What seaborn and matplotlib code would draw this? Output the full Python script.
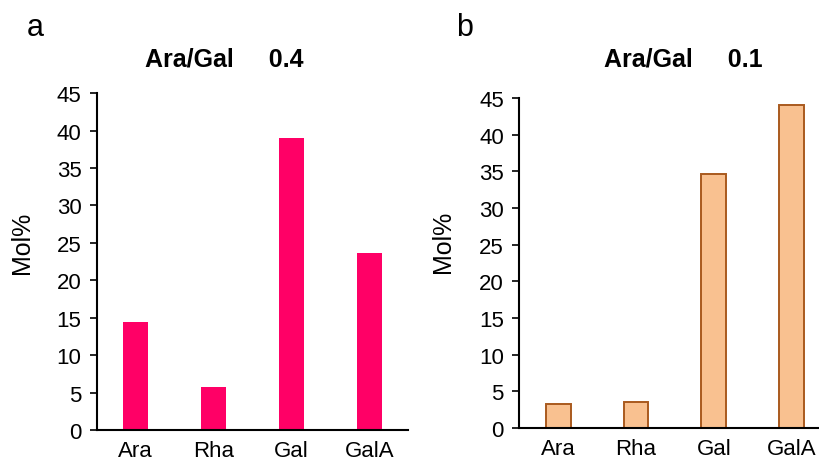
import matplotlib
matplotlib.use('Agg')

import pandas as pd
import matplotlib.pyplot as plt
import seaborn as sns

# data
sugars = ["Ara", "Rha", "Gal", "GalA"]
mol_a = [14.5, 5.7, 39.0, 23.6]
mol_b = [3.3, 3.6, 34.6, 44.0]
ratio_a = "0.4"
ratio_b = "0.1"
yticks = [0, 5, 10, 15, 20, 25, 30, 35, 40, 45]

sns.set_style("white")
plt.rcParams['font.family'] = ['Liberation Sans', 'DejaVu Sans']
plt.rcParams['text.color'] = 'black'
plt.rcParams['axes.labelcolor'] = 'black'

df_a = pd.DataFrame({"sugar": sugars, "mol": mol_a})
df_b = pd.DataFrame({"sugar": sugars, "mol": mol_b})

fig = plt.figure(figsize=(8.2, 4.64), dpi=100)
ax_a = fig.add_axes([0.118, 0.071, 0.380, 0.726])
ax_b = fig.add_axes([0.633, 0.0755, 0.367, 0.711])

sns.barplot(data=df_a, x="sugar", y="mol", order=sugars, color="#FF0066",
            width=0.32, saturation=1, linewidth=0, ax=ax_a)
sns.barplot(data=df_b, x="sugar", y="mol", order=sugars, color="#F9C190",
            width=0.32, saturation=1, edgecolor="#A95A1E", linewidth=1.4, ax=ax_b)

for ax in (ax_a, ax_b):
    ax.set_ylim(0, 45)
    ax.set_yticks(yticks)
    ax.set_xlabel("")
    ax.set_ylabel("Mol%", fontsize=18, color="black")
    for side in ("top", "right"):
        ax.spines[side].set_visible(False)
    for side in ("left", "bottom"):
        ax.spines[side].set_color("black")
        ax.spines[side].set_linewidth(1.5)
    ax.tick_params(axis="y", left=True, direction="out", length=5, width=1.2,
                   labelsize=16, pad=6, colors="black")
    ax.tick_params(axis="x", bottom=False, labelsize=16, pad=4, colors="black")

ax_a.set_xlim(-0.5, 3.5)
ax_b.set_xlim(-0.5, 3.36)
ax_a.yaxis.set_label_coords(-0.202, 0.56)
ax_b.yaxis.set_label_coords(-0.213, 0.567)

fig.text(0.274, 0.871, "Ara/Gal     " + ratio_a, ha="center", va="center",
         fontsize=18, fontweight="bold", color="black")
fig.text(0.833, 0.871, "Ara/Gal     " + ratio_b, ha="center", va="center",
         fontsize=18, fontweight="bold", color="black")
fig.text(0.043, 0.94, "a", ha="center", va="center", fontsize=22, color="black")
fig.text(0.567, 0.94, "b", ha="center", va="center", fontsize=22, color="black")

fig.savefig("out.png", dpi=100)
